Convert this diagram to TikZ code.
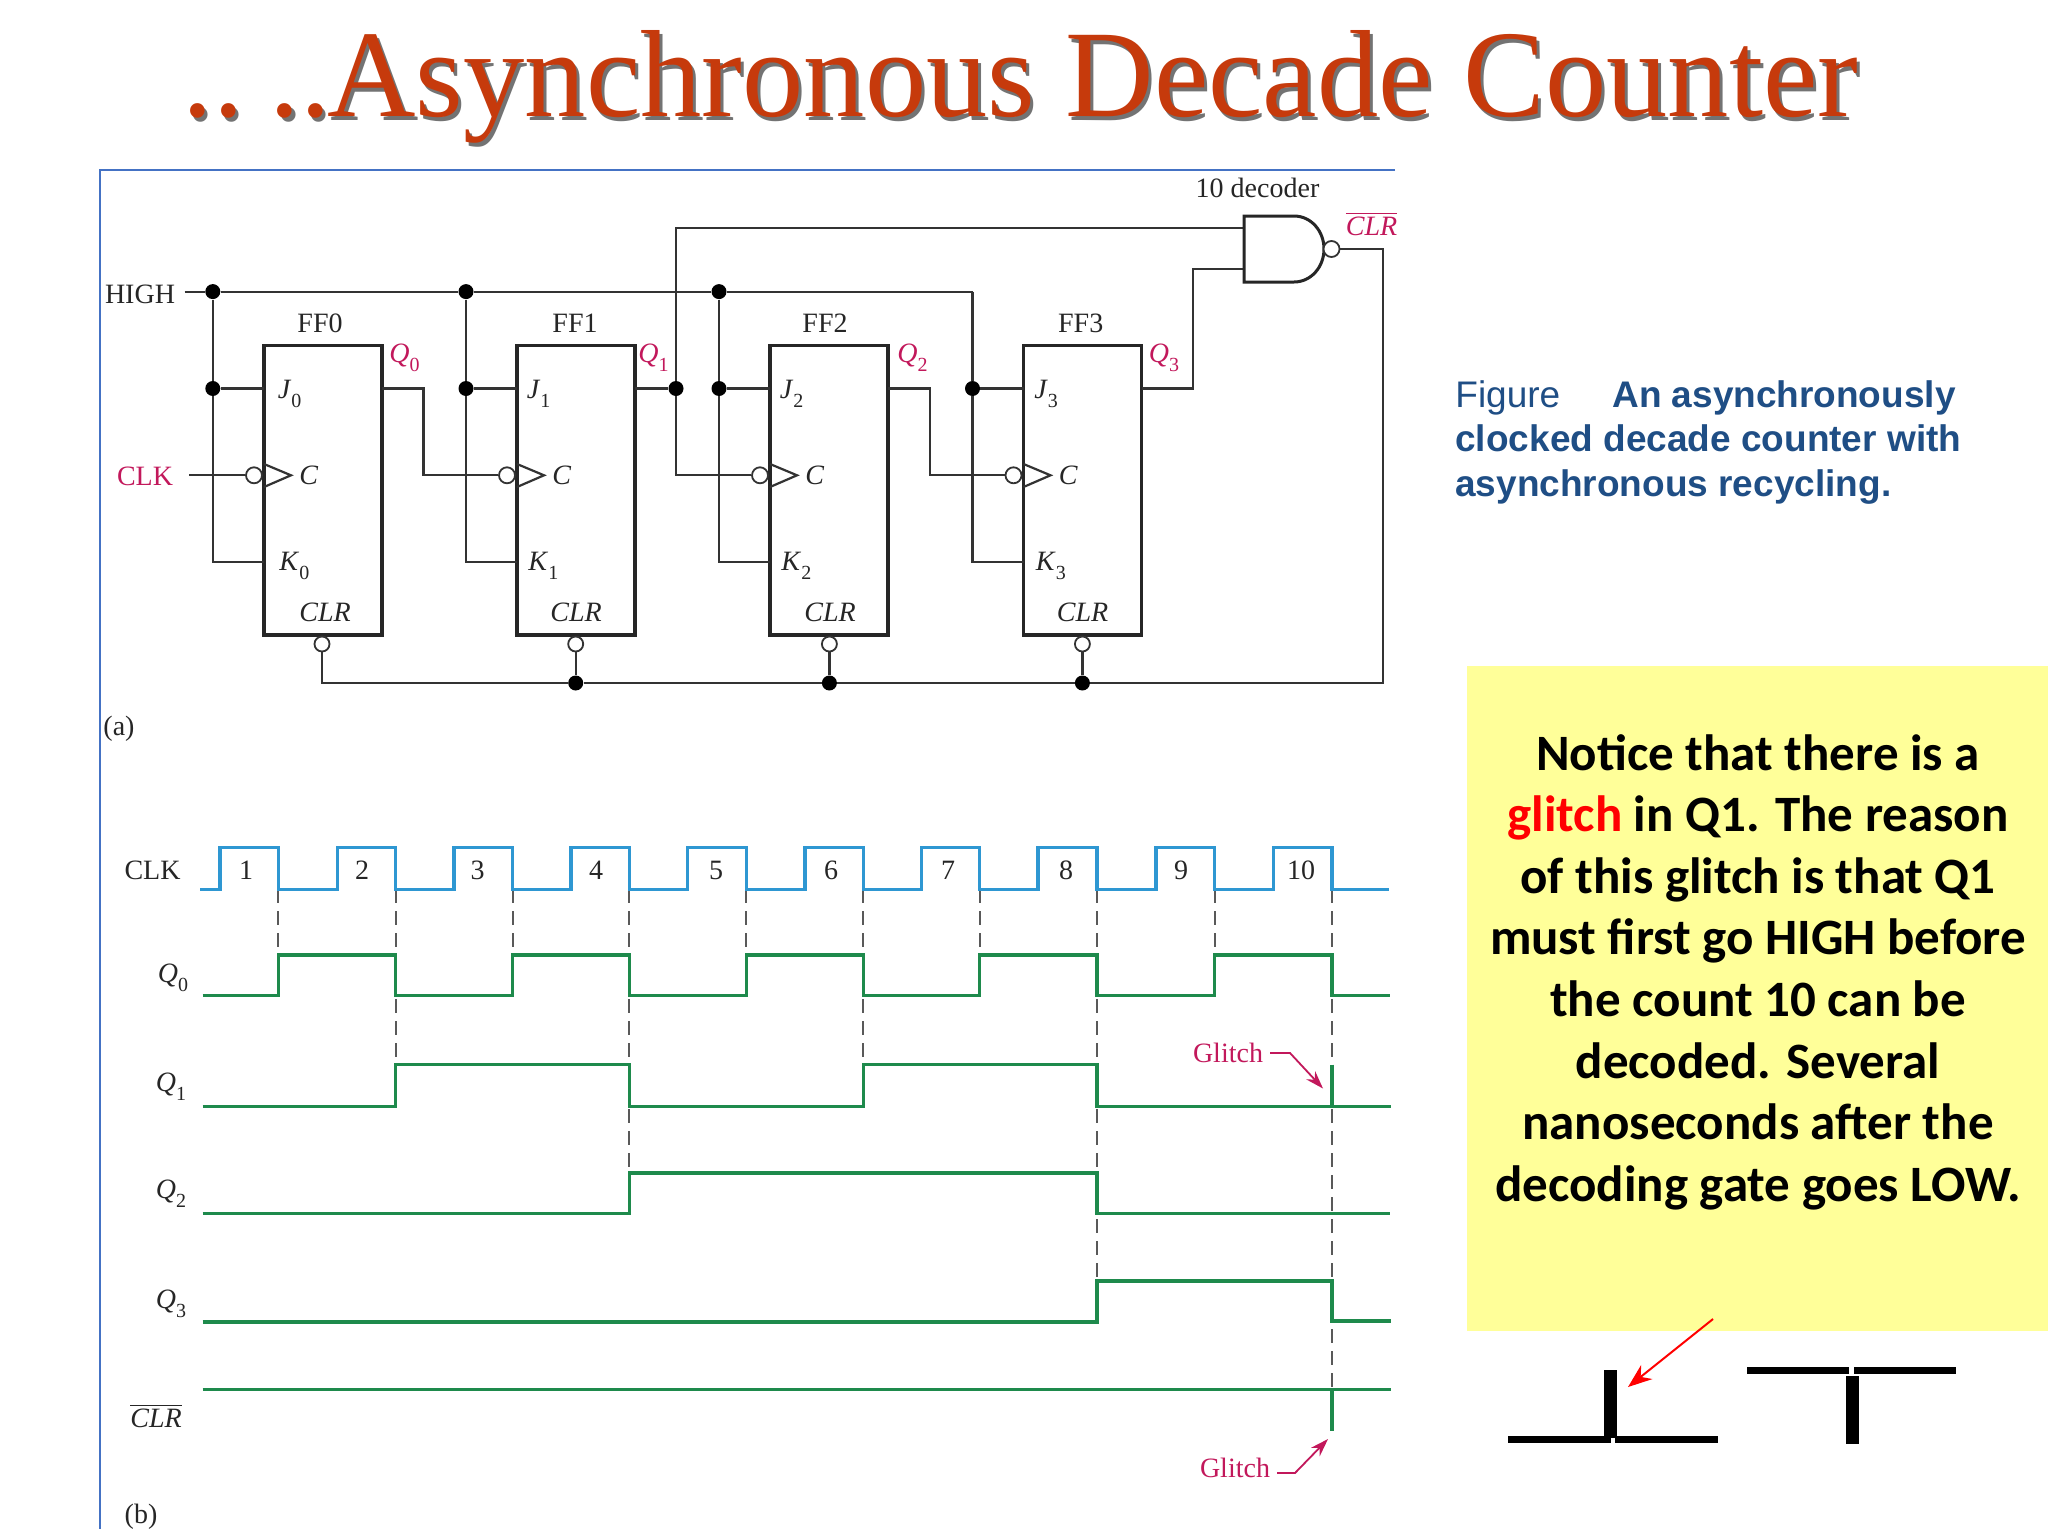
\documentclass[tikz,border=0pt]{standalone}
\usepackage{fontspec}
\setmainfont{Liberation Serif}
\newfontfamily\capfont{Liberation Sans}
\newfontfamily\notefont{Carlito}
\newfontfamily\titlefont[FakeStretch=0.988]{Liberation Serif}
\usetikzlibrary{arrows.meta}
\definecolor{wirec}{HTML}{333333}
\definecolor{pinkc}{HTML}{C2185B}
\definecolor{clkc}{HTML}{2E97D2}
\definecolor{wavec}{HTML}{1E8A4C}
\definecolor{framec}{HTML}{4472C4}
\definecolor{titlec}{HTML}{C63A0C}
\definecolor{capc}{HTML}{1F4E85}
\definecolor{notec}{HTML}{FFFF99}
\tikzset{
  wire/.style={draw=wirec,line width=1.1pt,line join=miter},
  ffbox/.style={draw=black!85,line width=1.7pt,minimum width=59pt,minimum height=144.8pt,inner sep=0pt,fill=none},
  jdot/.style={circle,fill=black,inner sep=0pt,minimum size=7.5pt},
  bub/.style={circle,draw=wirec,line width=0.9pt,fill=white,inner sep=0pt,minimum size=8pt},
  lab/.style={font=\fontsize{14}{14}\selectfont,text=black!85,inner sep=0pt},
  plab/.style={lab,text=pinkc},
  clkw/.style={draw=clkc,line width=1.6pt,line join=miter},
  wave/.style={draw=wavec,line width=1.6pt,line join=miter},
  guide/.style={draw=black!65,line width=1pt,dash pattern=on 7pt off 4pt},
  glarrow/.style={draw=pinkc,line width=0.9pt,-{Stealth[length=9pt,width=6pt]}},
  pulse/.style={fill=black,draw=none}
}
\newcommand{\lbl}[2]{\textit{#1}\raisebox{-0.7ex}{\fontsize{10}{10}\selectfont #2}}
\newcommand{\titletext}{.. \hspace{-7.2pt}..\kern-2pt Asynchronous Decade Counter}
\begin{document}
\begin{tikzpicture}[x=0.5pt,y=-0.5pt]
\useasboundingbox (0,0) rectangle (2048,1536);
\fill[white] (0,0) rectangle (2048,1536);
% title
\node[anchor=base west,inner sep=0pt,text=black!55,font=\titlefont\fontsize{62}{62}\selectfont] (titleshadow) at (185,120) {\titletext};
\node[anchor=base west,inner sep=0pt,text=titlec,font=\titlefont\fontsize{62}{62}\selectfont] (title) at (182,117) {\titletext};
% frame
\coordinate (fa) at (1395,170);
\coordinate (fb) at (100,170);
\coordinate (fc) at (100,1529);
\draw[framec,line width=1pt] (fa) -- (fb) -- (fc);
% flip-flops
\foreach \n/\xl/\xc/\fx/\qx/\dj/\dc in {0/264/322/320/389/0/0,1/517/575.7/575/638/-4/-2,2/770/829.4/825/897/-4/-1,3/1023.5/1082.4/1080.7/1148.5/-3/-2}{
  \node[ffbox] (ff\n) at ({\xl+59},490) {};
  \node[lab] (fl\n) at (\fx,323.4) {FF\n};
  \node[plab,anchor=west] (ql\n) at (\qx,358) {\lbl{Q}{\n}};
  \node[lab,anchor=west] (jl\n) at ({\xl+13.5+\dj},394) {\lbl{J}{\n}};
  \node[lab,anchor=west] (kl\n) at ({\xl+15+\dj},566) {\lbl{K}{\n}};
  \node[lab,anchor=west] (cl\n) at ({\xl+35},475.3) {\textit{C}};
  \node[lab] (rl\n) at ({\xl+61+\dc},612.7) {\textit{CLR}};
  \node[bub] (cb\n) at ({\xl-10},475.3) {};
  \node[bub,minimum size=7.5pt] (rb\n) at (\xc,644) {};
  \coordinate (tria\n) at (\xl,464);
  \coordinate (trib\n) at ({\xl+27},475.3);
  \coordinate (tric\n) at (\xl,487);
  \draw[wire,line width=1.1pt] (tria\n) -- (trib\n) -- (tric\n);
  \coordinate (j\n) at (\xl,388.5);
  \coordinate (k\n) at (\xl,562);
  \coordinate (q\n) at ({\xl+118},388.5);
}
% HIGH rail
\node[lab] (high) at (140,294) {HIGH};
\coordinate (highs) at (184.6,291.6);
\node[jdot] (hi0) at (212.8,291.6) {};
\node[jdot] (hi1) at (466,291.6) {};
\node[jdot] (hi2) at (719,291.6) {};
\coordinate (hi3) at (972.5,291.6);
\draw[wire] (highs) -- (hi0) -- (hi1) -- (hi2) -- (hi3);
\foreach \n/\x in {0/212.8,1/466,2/719,3/972.5}{
  \node[jdot] (jd\n) at (\x,388.5) {};
  \coordinate (kc\n) at (\x,562);
  \draw[wire] (hi\n) -- (jd\n) -- (kc\n) -- (k\n);
  \draw[wire] (jd\n) -- (j\n);
}
% clock chain
\node[plab] (clk) at (145,476) {CLK};
\coordinate (clks) at (189,475.3);
\draw[wire] (clks) -- (cb0);
\coordinate (q0a) at (423.5,388.5);
\coordinate (q0b) at (423.5,475.3);
\draw[wire] (q0) -- (q0a) -- (q0b) -- (cb1);
\node[jdot] (q1d) at (676,388.5) {};
\coordinate (q1a) at (676,227.7);
\coordinate (q1b) at (676,475.3);
\draw[wire] (q1) -- (q1d);
\draw[wire] (q1d) -- (q1b) -- (cb2);
\coordinate (q2a) at (930,388.5);
\coordinate (q2b) at (930,475.3);
\draw[wire] (q2) -- (q2a) -- (q2b) -- (cb3);
% decoder
\node[lab] (dec) at (1257.5,187.5) {10 decoder};
\coordinate (na) at (1244,227.7);
\coordinate (nb) at (1244,269);
\coordinate (q3a) at (1192.6,388.5);
\coordinate (q3b) at (1192.6,269);
\draw[wire] (q1d) -- (q1a) -- (na);
\draw[wire] (q3) -- (q3a) -- (q3b) -- (nb);
\draw[draw=black!85,line width=1.5pt,fill=white] (1244,216) -- (1294,216) .. controls (1311,216) and (1324,231) .. (1324,249) .. controls (1324,267) and (1311,282) .. (1294,282) -- (1244,282) -- cycle;
\node[bub] (nbub) at (1331.5,249) {};
\node[plab] (clrout) at (1371.5,224) {$\overline{\mbox{\textit{CLR}}}$};
% clear bus
\coordinate (bus0) at (322,683);
\node[jdot] (bd1) at (575.7,683) {};
\node[jdot] (bd2) at (829.4,683) {};
\node[jdot] (bd3) at (1082.4,683) {};
\coordinate (busr) at (1383,683);
\coordinate (busu) at (1383,249);
\draw[wire] (rb0) -- (bus0) -- (bd1) -- (bd2) -- (bd3) -- (busr) -- (busu) -- (nbub);
\foreach \n in {1,2,3}{\draw[wire] (rb\n) -- (bd\n);}
\node[lab] (a) at (119,729) {(a)};
% timing guides
\foreach \n/\x/\yb in {1/278.4/955,2/395.7/1064.7,3/512.6/955,4/629.4/1173,5/746.3/955,6/863.4/1064.7,7/979.8/955,8/1097/1281,9/1214.7/955,10/1332/1389.4}{
  \coordinate (gt\n) at (\x,889.4);
  \coordinate (gb\n) at (\x,\yb);
  \draw[guide] (gt\n) -- (gb\n);
}
% clock wave
\draw[clkw] (200,889.4) foreach \r/\f in {219.9/278.4,337.2/395.7,454/512.6,571/629.4,687.8/746.3,805/863.4,921.3/979.8,1038/1097,1156/1214.7,1273.3/1332}{ -- (\r,889.4) -- (\r,847.4) -- (\f,847.4) -- (\f,889.4)} -- (1389,889.4);
\foreach \n/\x/\t in {1/246/1,2/362/2,3/477.5/3,4/596/4,5/716/5,6/831/6,7/948/7,8/1066/8,9/1181/9,10/1301/10}{
  \node[lab] (num\n) at (\x,870) {\t};
}
% waves
\draw[wave] (202.5,995.8) -- (278.4,995.8) -- (278.4,955) -- (395.7,955) -- (395.7,995.8) -- (512.6,995.8) -- (512.6,955) -- (629.4,955) -- (629.4,995.8) -- (746.3,995.8) -- (746.3,955) -- (863.4,955) -- (863.4,995.8) -- (979.8,995.8) -- (979.8,955) -- (1097,955) -- (1097,995.8) -- (1214.7,995.8) -- (1214.7,955) -- (1332,955) -- (1332,995.8) -- (1390,995.8);
\draw[wave] (202.5,1106.3) -- (395.7,1106.3) -- (395.7,1064.7) -- (629.4,1064.7) -- (629.4,1106.3) -- (863.4,1106.3) -- (863.4,1064.7) -- (1097,1064.7) -- (1097,1106.3) -- (1391,1106.3);
\draw[wave] (1332,1064.7) -- (1332,1106.3);
\draw[wave] (202.5,1213.6) -- (629.4,1213.6) -- (629.4,1173) -- (1097,1173) -- (1097,1213.6) -- (1390,1213.6);
\draw[wave] (202.5,1322) -- (1097,1322) -- (1097,1281) -- (1332,1281) -- (1332,1321) -- (1391,1321);
\draw[wave] (202.5,1389.4) -- (1391,1389.4);
\draw[wave] (1332,1389.4) -- (1332,1430.5);
% wave labels
\node[lab] (tclk) at (152.5,870) {CLK};
\node[lab] (tq0) at (173,978) {\lbl{Q}{0}};
\node[lab] (tq1) at (171,1087) {\lbl{Q}{1}};
\node[lab] (tq2) at (171,1194) {\lbl{Q}{2}};
\node[lab] (tq3) at (171,1304) {\lbl{Q}{3}};
\node[lab] (tclr) at (156,1416) {$\overline{\mbox{\textit{CLR}}}$};
\node[lab] (b) at (141,1517) {(b)};
% glitch labels
\node[plab] (g1) at (1228,1053) {Glitch};
\coordinate (g1a) at (1270,1053);
\coordinate (g1b) at (1290,1053);
\coordinate (g1c) at (1323,1088.5);
\draw[glarrow] (g1a) -- (g1b) -- (g1c);
\node[plab] (g2) at (1235,1468) {Glitch};
\coordinate (g2a) at (1277,1473);
\coordinate (g2b) at (1295,1473);
\coordinate (g2c) at (1328,1439);
\draw[glarrow] (g2a) -- (g2b) -- (g2c);
% caption
\node[anchor=north west,inner sep=0pt,text=capc,align=left,font=\capfont\fontsize{18.5}{22.3}\selectfont] (cap) at (1455,380) {Figure\hspace{26pt}\textbf{An asynchronously}\\\textbf{clocked decade counter with}\\\textbf{asynchronous recycling.}};
% note
\fill[notec] (1467,666) rectangle (2048,1331);
\node[align=center,inner sep=0pt,font=\notefont\bfseries\fontsize{25.5}{30.8}\selectfont] (note) at (1758,972) {Notice that there is a\\\textcolor{red}{glitch} in Q1. The reason\\of this glitch is that Q1\\must first go HIGH before\\the count 10 can be\\decoded. Several\\nanoseconds after the\\decoding gate goes LOW.};
% pulse icons
\fill[pulse] (1508,1436) rectangle (1611,1443);
\fill[pulse] (1615,1436) rectangle (1717.5,1443);
\fill[pulse] (1604,1370) rectangle (1617,1438);
\fill[pulse] (1747,1367) rectangle (1849,1374);
\fill[pulse] (1854,1367) rectangle (1956,1374);
\fill[pulse] (1846,1376) rectangle (1859,1444);
\coordinate (ra) at (1713,1319);
\coordinate (rb) at (1628,1387);
\draw[red,line width=1pt,-{Stealth[length=12pt,width=9pt]}] (ra) -- (rb);
\end{tikzpicture}
\end{document}
